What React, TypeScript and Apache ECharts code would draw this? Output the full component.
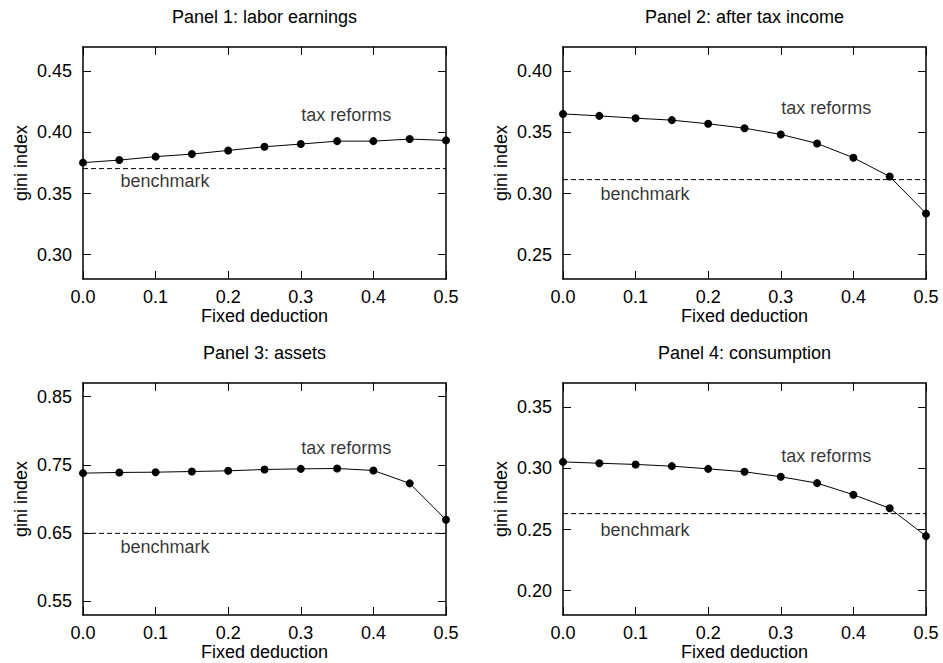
import React, { useEffect, useRef } from "react";
import * as echarts from "echarts";

const deductions = [0, 0.05, 0.1, 0.15, 0.2, 0.25, 0.3, 0.35, 0.4, 0.45, 0.5];
const panelTitles = [
  "Panel 1: labor earnings",
  "Panel 2: after tax income",
  "Panel 3: assets",
  "Panel 4: consumption",
];
const laborEarnings = [0.3753, 0.3774, 0.3802, 0.3823, 0.3853, 0.3883, 0.3905, 0.3929, 0.3929, 0.3946, 0.3935];
const afterTaxIncome = [0.3652, 0.3636, 0.3617, 0.3601, 0.3571, 0.3535, 0.3484, 0.341, 0.3293, 0.3139, 0.2837];
const assets = [0.7379, 0.7389, 0.7393, 0.7403, 0.7413, 0.7432, 0.7442, 0.7447, 0.7418, 0.7229, 0.6695];
const consumption = [0.3054, 0.3043, 0.3033, 0.3019, 0.2997, 0.2973, 0.2932, 0.288, 0.2785, 0.2674, 0.2446];
const benchmarks = [0.3704, 0.3114, 0.6497, 0.263];
const yMins = [0.28, 0.23, 0.53, 0.18];
const yMaxs = [0.47, 0.42, 0.87, 0.37];
const yTicks = [
  [0.3, 0.35, 0.4, 0.45],
  [0.25, 0.3, 0.35, 0.4],
  [0.55, 0.65, 0.75, 0.85],
  [0.2, 0.25, 0.3, 0.35],
];
const taxReformsLabelPos = [
  [0.3, 0.4147],
  [0.3, 0.37],
  [0.3, 0.7742],
  [0.3, 0.3101],
];
const benchmarkLabelPos = [
  [0.051, 0.36],
  [0.051, 0.3],
  [0.051, 0.6298],
  [0.051, 0.2495],
];

const FONT = "'Liberation Sans', Arial, Helvetica, sans-serif";
const FS = 18;

export default function App() {
  const ref = useRef<HTMLDivElement>(null);
  useEffect(() => {
    if (!ref.current) return;
    const chart = echarts.init(ref.current, undefined, { renderer: "svg" });
    const seriesData = [laborEarnings, afterTaxIncome, assets, consumption];
    const grids = [
      { left: 83, top: 47, width: 363, height: 232 },
      { left: 563, top: 47, width: 363, height: 232 },
      { left: 83, top: 383, width: 363, height: 232 },
      { left: 563, top: 383, width: 363, height: 232 },
    ];
    const lineStyle = { color: "#000", width: 1.5 };
    const xAxis: any[] = [];
    const yAxis: any[] = [];
    const series: any[] = [];
    const graphic: any[] = [];
    grids.forEach((g, i) => {
      xAxis.push({
        type: "value",
        gridIndex: i,
        min: 0,
        max: 0.5,
        interval: 0.1,
        position: "bottom",
        name: "Fixed deduction",
        nameLocation: "middle",
        nameGap: 27,
        nameTextStyle: { fontFamily: FONT, fontSize: FS, color: "#000" },
        axisLine: { show: true, lineStyle },
        axisTick: { show: true, inside: true, length: 8, lineStyle: { color: "#000", width: 1 } },
        axisLabel: {
          show: true,
          margin: 9,
          fontFamily: FONT,
          fontSize: FS,
          color: "#000",
          formatter: (v: number) => v.toFixed(1),
        },
        splitLine: { show: false },
      });
      xAxis.push({
        type: "value",
        gridIndex: i,
        min: 0,
        max: 0.5,
        interval: 0.1,
        position: "top",
        axisLine: { show: true, onZero: false, lineStyle },
        axisTick: { show: true, inside: true, length: 8, lineStyle: { color: "#000", width: 1 } },
        axisLabel: { show: false },
        splitLine: { show: false },
      });
      yAxis.push({
        type: "value",
        gridIndex: i,
        min: yMins[i],
        max: yMaxs[i],
        position: "left",
        name: "gini index",
        nameLocation: "middle",
        nameGap: 53,
        nameTextStyle: { fontFamily: FONT, fontSize: FS, color: "#000" },
        axisLine: { show: true, onZero: false, lineStyle },
        axisTick: {
          show: true,
          inside: true,
          length: 8,
          customValues: yTicks[i],
          lineStyle: { color: "#000", width: 1 },
        },
        axisLabel: {
          show: true,
          margin: 11,
          customValues: yTicks[i],
          fontFamily: FONT,
          fontSize: FS,
          color: "#000",
          formatter: (v: number) => v.toFixed(2),
        },
        splitLine: { show: false },
      });
      yAxis.push({
        type: "value",
        gridIndex: i,
        min: yMins[i],
        max: yMaxs[i],
        position: "right",
        axisLine: { show: true, onZero: false, lineStyle },
        axisTick: {
          show: true,
          inside: true,
          length: 8,
          customValues: yTicks[i],
          lineStyle: { color: "#000", width: 1 },
        },
        axisLabel: { show: false },
        splitLine: { show: false },
      });
      series.push({
        type: "line",
        xAxisIndex: 2 * i,
        yAxisIndex: 2 * i,
        data: [
          [0, benchmarks[i]],
          [0.5, benchmarks[i]],
        ],
        symbol: "none",
        lineStyle: { color: "#000", width: 1, type: [5, 3] },
        silent: true,
        z: 2,
      });
      series.push({
        type: "line",
        xAxisIndex: 2 * i,
        yAxisIndex: 2 * i,
        data: deductions.map((d, k) => [d, seriesData[i][k]]),
        symbol: "circle",
        symbolSize: 8,
        showAllSymbol: true,
        itemStyle: { color: "#000" },
        lineStyle: { color: "#000", width: 1 },
        clip: false,
        z: 3,
      });
      series.push({
        type: "scatter",
        xAxisIndex: 2 * i,
        yAxisIndex: 2 * i,
        silent: true,
        symbolSize: 1,
        itemStyle: { color: "rgba(0,0,0,0)" },
        data: [
          { value: taxReformsLabelPos[i], name: "tax reforms" },
          { value: benchmarkLabelPos[i], name: "benchmark" },
        ],
        label: {
          show: true,
          position: "right",
          distance: 0,
          formatter: (p: any) => p.name,
          fontFamily: FONT,
          fontSize: FS,
          color: "#000",
        },
        z: 4,
      });
      graphic.push({
        type: "text",
        x: g.left + g.width / 2,
        y: g.top - 30,
        style: {
          text: panelTitles[i],
          fontFamily: FONT,
          fontSize: FS,
          fill: "#000",
          textAlign: "center",
          textVerticalAlign: "middle",
        },
      });
    });
    chart.setOption({
      animation: false,
      backgroundColor: "#fff",
      grid: grids.map((g) => ({ ...g, containLabel: false })),
      xAxis,
      yAxis,
      series,
      graphic,
    });
    return () => chart.dispose();
  }, []);
  return (
    <div
      ref={ref}
      style={{ position: "fixed", left: 0, top: 0, width: 943, height: 663, background: "#fff" }}
    />
  );
}
